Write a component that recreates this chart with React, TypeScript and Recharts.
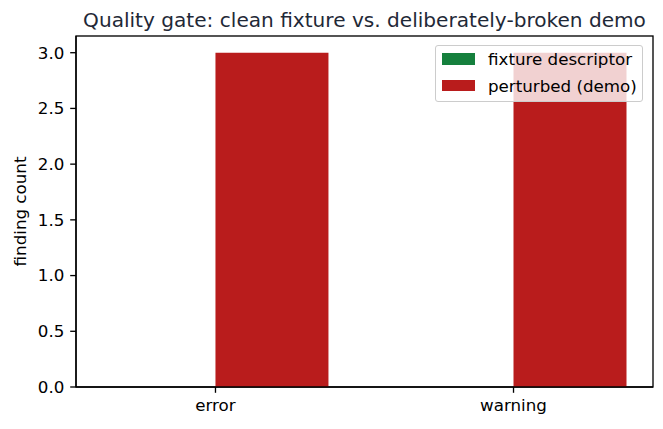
import React from 'react';
import { BarChart, Bar, XAxis, YAxis, Customized } from 'recharts';

const categories = ['error', 'warning'];
const fixtureValues = [0, 0];
const perturbedValues = [3, 3];
const yTicks = [0, 0.5, 1, 1.5, 2, 2.5, 3];
const seriesNames = ['fixture descriptor', 'perturbed (demo)'];
const seriesColors = ['#15803d', '#b91c1c'];
const titleText = 'Quality gate: clean fixture vs. deliberately-broken demo';
const yLabelText = 'finding count';

const data = categories.map((c, i) => ({
  x: i,
  name: c,
  fixture: fixtureValues[i],
  perturbed: perturbedValues[i],
}));

const W = 663;
const H = 429;
const PL = 76;
const PT = 36;
const PR = 653;
const PB = 387;
const FONT = '"DejaVu Sans", sans-serif';
const FS = 16.7;

const Frame = () => (
  <g>
    <rect x={PL} y={PT} width={PR - PL} height={PB - PT} fill="none" stroke="#000" strokeWidth={1.33} />
    <text x={(PL + PR) / 2} y={27} textAnchor="middle" fontFamily={FONT} fontSize={20.1} fill="#1f2937">
      {titleText}
    </text>
    <text
      x={0}
      y={0}
      transform={`translate(25.5, ${(PT + PB) / 2}) rotate(-90)`}
      textAnchor="middle"
      fontFamily={FONT}
      fontSize={FS}
      fill="#000"
    >
      {yLabelText}
    </text>
  </g>
);

const LegendBox = () => (
  <div
    style={{
      position: 'absolute',
      left: 435,
      top: 45,
      width: 208,
      height: 57,
      boxSizing: 'border-box',
      background: 'rgba(255,255,255,0.8)',
      border: '1.5px solid #cccccc',
      borderRadius: 3,
      zIndex: 2,
      fontFamily: FONT,
      fontSize: FS,
      color: '#000',
    }}
  >
    {seriesNames.map((n, i) => (
      <div
        key={n}
        style={{
          position: 'absolute',
          left: 5.5,
          top: i === 0 ? 3 : 29.5,
          height: 20,
          display: 'flex',
          alignItems: 'center',
          whiteSpace: 'nowrap',
        }}
      >
        <span style={{ display: 'inline-block', width: 33, height: 11.5, background: seriesColors[i] }} />
        <span style={{ marginLeft: 13.5, lineHeight: '20px' }}>{n}</span>
      </div>
    ))}
  </div>
);

export default function App() {
  return (
    <div style={{ position: 'absolute', left: 0, top: 0, width: W, height: H, background: '#fff' }}>
      <BarChart
        width={W}
        height={H}
        data={data}
        margin={{ top: PT, right: W - PR, bottom: 0, left: 0 }}
        barGap={0}
      >
        <XAxis
          dataKey="x"
          type="number"
          domain={[-0.468, 1.468]}
          ticks={[0, 1]}
          allowDataOverflow
          tickFormatter={(v: number) => categories[v] ?? ''}
          height={H - PB}
          stroke="#000"
          strokeWidth={1.33}
          tickSize={5.8}
          tickMargin={6.5}
          tick={{ fill: '#000', fontFamily: FONT, fontSize: FS }}
          tickLine={{ stroke: '#000', strokeWidth: 1.33 }}
        />
        <YAxis
          type="number"
          domain={[0, 3.15]}
          ticks={yTicks}
          allowDataOverflow
          width={PL}
          tickFormatter={(v: number) => v.toFixed(1)}
          stroke="#000"
          strokeWidth={1.33}
          tickSize={5.8}
          tickMargin={5.8}
          tick={{ fill: '#000', fontFamily: FONT, fontSize: FS }}
          tickLine={{ stroke: '#000', strokeWidth: 1.33 }}
        />
        <Bar dataKey="fixture" name={seriesNames[0]} fill={seriesColors[0]} barSize={113} isAnimationActive={false} />
        <Bar dataKey="perturbed" name={seriesNames[1]} fill={seriesColors[1]} barSize={113} isAnimationActive={false} />
        <Customized component={Frame} />
      </BarChart>
      <LegendBox />
    </div>
  );
}
